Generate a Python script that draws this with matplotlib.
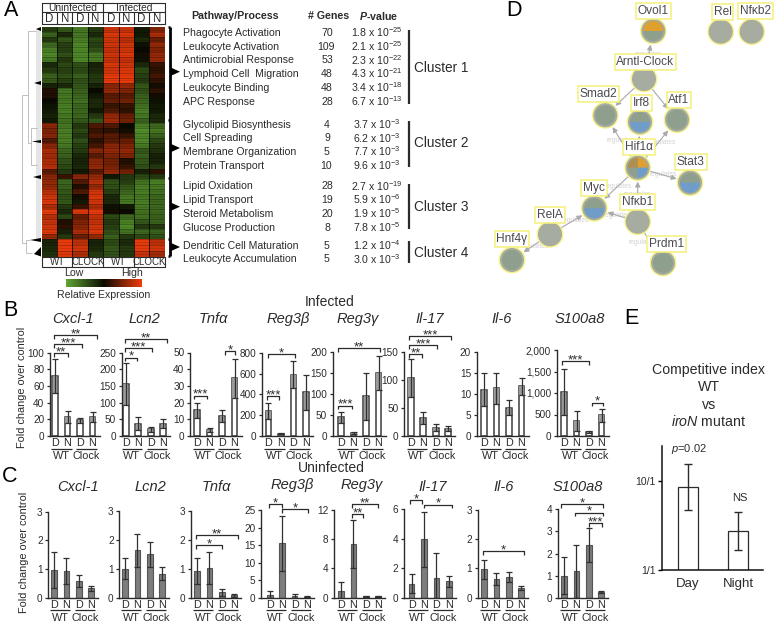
import numpy as np
import matplotlib
matplotlib.use("Agg")
import matplotlib.pyplot as plt
from matplotlib.colors import LinearSegmentedColormap
from matplotlib.patches import Circle, Wedge
from matplotlib.ticker import NullLocator

plt.rcParams['font.family'] = ['Liberation Sans', 'DejaVu Sans']
plt.rcParams['mathtext.default'] = 'regular'
plt.rcParams['mathtext.fontset'] = 'custom'
plt.rcParams['mathtext.rm'] = 'Liberation Sans'
plt.rcParams['mathtext.it'] = 'Liberation Sans:italic'
plt.rcParams['mathtext.bf'] = 'Liberation Sans:bold'
plt.rcParams['mathtext.bfit'] = 'Liberation Sans:italic:bold'

W, H = 774, 622
INK = '#2b2b2b'

# ---------------- DATA ----------------
columns = ['D', 'N', 'D', 'N', 'D', 'N', 'D', 'N']
heat_rows = [
 [-.30,-.50,-.70,-.30,.80,.80,-.10,.50],[-.55,-.20,-.70,-.20,.90,.90,-.10,.70],
 [-.30,-.50,-.75,-.40,.85,.75,-.20,.40],[-.60,-.35,-.80,-.35,.85,.85,-.05,.60],
 [-.75,-.35,-.80,-.45,.80,.85,0,.50],[-.80,-.45,-.80,-.70,.85,.90,.05,.60],
 [-.70,-.30,-.80,-.70,.80,.80,-.05,.60],[-.20,-.40,-.45,-.15,.90,.85,-.20,.20],
 [-.30,-.35,-.40,-.20,.85,.90,-.40,.15],[-.55,-.45,-.55,-.30,.95,.95,-.35,.25],
 [-.50,-.35,-.45,-.30,.95,.95,-.30,.15],[-.15,-.20,-.50,-.15,.55,.60,-.50,.05],
 [.10,-.70,-.55,0,.60,.50,-.45,.15],[.10,-.70,-.60,-.10,.35,.35,-.55,.05],
 [0,-.70,-.65,-.20,.40,.45,-.60,-.05],[-.05,-.75,-.60,-.20,.20,.20,-.65,-.10],
 [-.10,-.75,-.60,-.10,.30,.15,-.75,-.10],[-.15,-.70,-.60,-.30,.60,.40,-.70,-.20],
 [-.10,-.65,-.50,-.50,.65,.45,-.55,-.20],[.55,-.70,-.30,.30,.30,0,-.75,-.60],
 [.50,-.75,-.40,.20,.15,.05,-.85,-.70],[.55,-.75,-.30,.30,.35,.20,-.80,-.55],
 [.30,-.75,-.45,.15,.35,.40,-.80,-.40],[.55,-.70,-.35,.25,.55,.50,-.70,-.30],
 [.70,-.60,-.30,.55,.60,.60,-.50,-.25],[.65,-.55,-.20,.35,.50,.50,-.55,-.15],
 [.70,-.45,-.15,.55,.45,.10,-.50,-.15],[.75,-.40,-.20,.60,.50,.20,-.45,-.30],
 [.35,-.30,-.10,.35,.60,.45,-.15,.15],[.55,.20,.55,.60,-.10,-.30,-.40,-.30],
 [.60,-.60,.30,.75,-.45,-.35,-.65,-.75],[.60,-.55,.10,.60,-.45,-.50,-.75,-.70],
 [.75,-.50,.30,.85,-.35,-.60,-.75,-.65],[.85,-.45,.05,.90,-.20,-.70,-.70,-.60],
 [.90,-.50,-.10,.85,-.20,-.70,-.75,-.60],[.70,-.30,.20,.70,-.05,-.10,-.70,-.60],
 [.95,-.20,.90,.95,.05,0,-.65,-.60],[.75,-.40,.40,.80,-.40,-.60,-.65,-.55],
 [.80,.10,.50,.80,-.30,-.75,-.50,-.55],[.85,.15,.55,.85,-.35,-.80,-.30,-.30],
 [.90,-.15,.70,.90,-.45,-.65,-.60,-.55],[.60,-.30,.40,.60,-.55,-.30,-.40,-.45],
 [-.15,.95,.75,-.15,-.40,-.20,.95,.75],[-.20,.95,.85,-.20,-.50,-.30,.95,.85],
 [-.25,.90,.70,-.30,-.45,-.30,.80,.65]]
heat_row_units = [5.05]*42 + [5.7]*3

pathways = ['Phagocyte Activation','Leukocyte Activation','Antimicrobial Response',
            'Lymphoid Cell  Migration','Leukocyte Binding','APC Response',
            'Glycolipid Biosynthesis','Cell Spreading','Membrane Organization','Protein Transport',
            'Lipid Oxidation','Lipid Transport','Steroid Metabolism','Glucose Production',
            'Dendritic Cell Maturation','Leukocyte Accumulation']
n_genes = [70,109,53,48,48,28,4,9,5,10,28,19,20,8,5,5]
p_mant = ['1.8','2.1','2.3','4.3','3.4','6.7','3.7','6.2','7.7','9.6','2.7','5.9','1.9','7.8','1.2','3.0']
p_exp = [-25,-25,-22,-21,-18,-13,-3,-3,-3,-3,-19,-6,-5,-5,-4,-3]
clusters = ['Cluster 1','Cluster 2','Cluster 3','Cluster 4']

genes_b = ['Cxcl-1','Lcn2','Tnfα','Reg3β','Reg3γ','Il-17','Il-6','S100a8']
vals_b = [[72,23,19,23],[157,37,20,37],[15.5,3.5,12,34.5],[240,20,590,420],
          [44,7,94,150],[103,32,15,13],[11,11.3,6.7,11.8],[1030,350,90,480]]
errs_b = [[20,7,3,6],[63,20,7,13],[4.5,1.2,3.5,11.5],[75,5,130,170],
          [14,2,55,40],[34,10,6,4],[4,3.7,1.8,2],[530,240,30,150]]
ticks_b = [[0,20,40,60,80,100],[0,50,100,150,200,250],[0,10,20,30,40,50],[0,200,400,600,800],
           [0,50,100,150,200],[0,50,100,150],[0,5,10,15,20],[0,500,1000,1500,2000]]

genes_c = genes_b
vals_c = [[.97,.92,.58,.33],[1.0,1.63,1.5,.83],[.92,1.03,.18,.08],[.8,15.5,.5,.3],
          [.9,7.35,.2,.2],[.95,3.95,1.3,1.1],[.97,.63,.7,.33],[1,1.2,2.37,.27]]
errs_c = [[.63,.45,.22,.08],[.37,.57,.43,.22],[.45,.55,.12,.05],[1.0,7.8,.6,.2],
          [1.3,3.3,.1,.1],[.65,1.85,1.7,.4],[.33,.2,.18,.07],[.83,1.2,.77,.04]]
ticks_c = [[0,1,2,3],[0,1,2,3],[0,1,2,3],[0,5,10,15,20,25],
           [0,4,8,12],[0,2,4,6],[0,1,2,3],[0,1,2,3,4]]
conditions = ['D','N','D','N']
groups = ['WT','Clock']

e_labels = ['Day','Night']
e_vals = [8.5,2.73]
e_low = [4.66,1.66]
e_high = [15.2,4.43]

net_nodes = ['Ovol1','Rel','Nfκb2','Arntl-Clock','Smad2','Irf8','Atf1','Hif1α','Stat3','Myc','Nfκb1','RelA','Hnf4γ','Prdm1']
net_edges = [('Arntl-Clock','Ovol1'),('Arntl-Clock','Smad2'),('Arntl-Clock','Atf1'),('Hif1α','Smad2'),
             ('Hif1α','Irf8'),('Hif1α','Atf1'),('Hif1α','Stat3'),('Hif1α','Myc'),('Nfκb1','Hif1α'),
             ('Nfκb1','Myc'),('RelA','Myc'),('RelA','Hnf4γ'),('Nfκb1','Prdm1')]

# ---------------- LAYOUT ----------------
fig = plt.figure(figsize=(W/100, H/100), dpi=100, facecolor='white')
ov = fig.add_axes([0, 0, 1, 1], zorder=0)
ov.set_xlim(0, W); ov.set_ylim(H, 0); ov.axis('off')

def rect(l, t, r, b):
    return [l/W, 1-b/H, (r-l)/W, (b-t)/H]

def T(x, y, s, size=7.5, ha='center', va='center', **kw):
    kw.setdefault('color', INK)
    return ov.text(x, y, s, fontsize=size, ha=ha, va=va, **kw)

def L(xs, ys, lw=1.0, color=INK, **kw):
    ov.plot(xs, ys, lw=lw, color=color, solid_capstyle='butt', **kw)

for s, x, y in [('A',11,10),('B',10,310),('C',10,476),('D',514,10),('E',631,318)]:
    T(x, y, s, size=15.5, color='black')

# ---------------- panel A heatmap ----------------
cm = LinearSegmentedColormap.from_list('gbr', ['#5fa532', '#0a0a00', '#f03c0c'])
hx0, hx1, hy0, hy1 = 41.7, 164.7, 27, 256.5
axh = fig.add_axes(rect(hx0, hy0, hx1, hy1), zorder=1)
edges = np.concatenate([[0], np.cumsum(heat_row_units)])
axh.pcolormesh(np.arange(9), edges, np.array(heat_rows), cmap=cm, vmin=-1, vmax=1, shading='flat')
axh.set_ylim(edges[-1], 0); axh.set_xlim(0, 8); axh.axis('off')
axh.hlines(edges[1:-1], 0, 8, color='black', lw=.5, alpha=.35)
axh.hlines((edges[1:]+edges[:-1])/2, 0, 8, color='black', lw=.4, alpha=.18)
for k in range(1, 8):
    axh.axvline(k, color='black', lw=0.5)

cw = (hx1-hx0)/8
L([hx0,hx1,hx1,hx0,hx0],[2.7,2.7,24,24,2.7],lw=.8)
L([hx0,hx1],[12.3,12.3],lw=.8)
L([hx0+4*cw]*2,[2.7,12.3],lw=.8)
T(hx0+2*cw,7.6,'Uninfected',size=7.4); T(hx0+6*cw,7.6,'Infected',size=7.4)
for k, c in enumerate(columns):
    T(hx0+(k+.5)*cw,19,c,size=8.3)
    if k:
        L([hx0+k*cw]*2,[12.3,24],lw=.8)
L([hx0,hx1,hx1,hx0,hx0],[256.7,256.7,267.3,267.3,256.7],lw=.8)
for k in (2,4,6):
    L([hx0+k*cw]*2,[256.7,267.3],lw=.8)
for k, s in enumerate(['WT','CLOCK','WT','CLOCK']):
    T(hx0+(2*k+1)*cw,262,s,size=7)
axc = fig.add_axes(rect(66,279.3,141.3,287.5), zorder=1)
axc.imshow(np.linspace(-1,1,128)[None,:],aspect='auto',cmap=cm,vmin=-1,vmax=1)
axc.axis('off')
T(74,273.3,'Low',size=7.6); T(132.3,273.3,'High',size=7.6)
T(104,295,'Relative Expression',size=7.6)

# dendrogram
ov.fill([36,41,41,36],[29,29,240,240],color='#e4e4e4',lw=0)
for x0, y0, y1 in [(36,27,31),(34,81,85),(32,140,143),(33,175,179),(30,238,242)]:
    ov.fill([41,x0,41],[y0,(y0+y1)/2,y1],color='black',lw=0)
ov.fill([34,41,41],[254,247,256.5],color='black',lw=0)
dg = '#b5b5b5'
L([21.7,21.7],[95,243.3],lw=.6,color=dg); L([21.7,27.7],[95,95],lw=.6,color=dg)
L([27.7,27.7],[31,143],lw=.6,color=dg); L([27.7,36],[31,31],lw=.6,color=dg)
L([27.7,31],[143,143],lw=.6,color=dg); L([31,31],[128,165],lw=.6,color=dg)
L([31,37],[128,128],lw=.6,color=dg); L([31,37],[165,165],lw=.6,color=dg)
L([21.7,26],[243.3,243.3],lw=.6,color=dg); L([26,26],[240,253],lw=.6,color=dg)
L([26,32],[253,253],lw=.6,color=dg); L([26,30],[240,240],lw=.6,color=dg)

# cluster bracket
L([170,170],[27,256],lw=2,color='black')
for y in [27,120,178,239,256]:
    L([167.5,170],[y,y],lw=1.8,color='black')
for y in [71.7,148,206.7,247]:
    ov.fill([170,180,170],[y-4.5,y,y+4.5],color='black',lw=0)

# table
T(191,16,'Pathway/Process',size=7.7,ha='left',fontweight='bold')
T(307.7,16,'# Genes',size=7.7,ha='left',fontweight='bold')
T(359,16,'$\\mathbfit{P}$-value',size=7.7,ha='left',fontweight='bold')
row_y = [32.7,46.7,60.3,74,88,101.7,124.7,138.3,152,165.7,186.3,200,214,227.7,245.7,259.3]
for p, n, m, e, y in zip(pathways, n_genes, p_mant, p_exp, row_y):
    T(182.7,y,p,size=7.6,ha='left')
    T(327 if n != 109 and n != 10 else 326,y,str(n),size=7.6)
    T(376.5,y-.5,f'{m} x 10$^{{{e}}}$',size=7.6)
for s, x, y0, y1, ty in zip(clusters,[409,409,409,408.5],[30,120.7,184.3,240.7],[104,166.7,229.3,263.3],[68.3,143.3,207.3,253.3]):
    L([x,x],[y0,y1],lw=1.6)
    T(414.3,ty,s,size=9.8,ha='left')

# ---------------- panels B / C bars ----------------
def bar_panel(vals, errs, ticks, lefts, x0s, step, y0, ytops, filled):
    for v, e, tk, l, x0, yt in zip(vals, errs, ticks, lefts, x0s, ytops):
        r = x0 + 3*step + 7
        ax = fig.add_axes(rect(l, yt, r, y0), zorder=2, facecolor='none')
        ax.set_xlim((l-x0)/step, (r-x0)/step)
        ax.set_ylim(0, tk[-1])
        xs = np.arange(4)
        v = np.array(v, float); e = np.array(e, float)
        lo = np.maximum(v-e, 0)
        w = 5.6/step
        if filled:
            ax.bar(xs, v, width=w, color='#7d7d7d', edgecolor='#555555', lw=.8)
        else:
            ax.bar(xs, v, width=w, color='white', edgecolor='#3c3c3c', lw=1.1)
            ax.bar(xs, v-lo, bottom=lo, width=w*.8, color='#9a9a9a', lw=0)
        ax.errorbar(xs, v, yerr=e, fmt='none', ecolor='#303030', elinewidth=.9, capsize=2.2, capthick=.9)
        for s in ('top','right'):
            ax.spines[s].set_visible(False)
        for s in ('left','bottom'):
            ax.spines[s].set_color(INK); ax.spines[s].set_linewidth(1.0)
        ax.set_yticks(tk)
        ax.set_yticklabels([f'{t:,}' for t in tk], fontsize=7.2, color=INK)
        ax.set_xticks(xs)
        ax.set_xticklabels(conditions, fontsize=7.8, color=INK)
        ax.tick_params(axis='y', length=2.5, width=.9, color=INK, pad=1.5)
        ax.tick_params(axis='x', length=0, pad=1.5)
        for g, a in zip(groups, (0, 2)):
            xa, xb = x0+a*step, x0+(a+1)*step
            L([xa-4, xb+4],[y0+12.5]*2, lw=.9)
            T((xa+xb)/2, y0+20, g, size=7.8)

lefts_b = [50,121.7,190,261.7,332.7,404,476.7,556.7]
x0s_b = [55,125.7,197,268.3,341,410.7,484,564]
ytops_b = [352.7,352.7,352.5,352.7,351.7,351.7,351.7,350]
bar_panel(vals_b, errs_b, ticks_b, lefts_b, x0s_b, 12.5, 436, ytops_b, False)

lefts_c = [48.3,119.3,190.7,261,334,404,477.7,557.7]
x0s_c = [54,125,197,269.7,341,411.7,484,564]
ytops_c = [511.7,510.7,510.7,510,510,509,510,509.3]
bar_panel(vals_c, errs_c, ticks_c, lefts_c, x0s_c, 12.4, 597.7, ytops_c, True)

T(330,302.5,'Infected',size=10); T(331,468.5,'Uninfected',size=10)
for g, x in zip(genes_b,[73,144,213,288,358,430,502,580]):
    T(x,319,g,size=10.5,style='italic')
for g, x, y in zip(genes_c,[78,150,216,292.7,362,432.7,504,578],[487,487,487,485,485.5,487,487,487]):
    T(x,y,g,size=10.5,style='italic')
T(22,387,'Fold change over control',size=7.9,rotation=90)
T(24,552,'Fold change over control',size=7.9,rotation=90)

brackets = [
 (54.3,67.7,353.3,'**'),(54.3,81.7,344.3,'***'),(54.3,96.7,335.3,'**'),
 (125,136.7,357.7,'*'),(125,151.7,348.3,'***'),(125,166.7,339.3,'**'),
 (194,207.3,395.7,'***'),(225,235,351,'*'),
 (267.7,295.3,354.3,'*'),(266.7,279.3,396,'***'),
 (338.3,380,348.3,'**'),(338.3,351.7,405.7,'***'),
 (409.3,421.7,354,'**'),(409.3,436.7,345,'***'),(409.3,451,336,'***'),
 (561.7,589.3,361,'***'),(591.7,602.7,402.7,'*'),
 (196,222.3,545,'*'),(196,237.7,535,'**'),
 (269.3,281.7,504,'*'),(281.7,308.3,509.3,'*'),
 (351.7,363.3,514,'**'),(351.7,378.3,504.3,'**'),
 (410,421.7,500,'*'),(424.3,451.7,504.7,'*'),
 (482.7,524.3,551,'*'),
 (561,603.3,504,'*'),(575,603.3,512.7,'*'),(589.3,601.7,523,'***')]
for a, b, y, s in brackets:
    L([a,a,b,b],[y+3.5,y,y,y+3.5],lw=.9)
    T((a+b)/2,y-1,s,size=9.5)

# ---------------- panel D network ----------------
node_xy = dict(zip(net_nodes,[(653.3,31),(720.7,31.7),(751.7,31.7),(644,79),(605.3,115.3),(640,122),(677,119.7),
                              (637.7,167.7),(690,182.7),(594.3,208.3),(637.7,221.7),(550,234.3),(512,260),(663,263)]))
label_xy = dict(zip(net_nodes,[(653.5,11),(722.5,11.7),(755.5,11),(645.5,62.3),(598.3,94),(641.3,103),(679,100),
                               (639,147.3),(690.7,162.3),(593.7,188.3),(637.7,202.3),(550,214.7),(512,238.7),(666.7,244)]))
edge_label_xy = [(648,55),(620,141),(661.7,143),(663,174),(618,187),(637,194),(617,215.7),(575,221),(535,247),(642,243)]
wedges = {'Ovol1':[(180,360,'#e0a030')],'Irf8':[(0,180,'#6f9cc8')],'Stat3':[(0,180,'#6f9cc8')],
          'Myc':[(0,180,'#6f9cc8')],'Hif1α':[(270,360,'#e0a030'),(0,90,'#6f9cc8'),(180,270,'#b08d50')]}
light = {'Rel','Nfκb2','Arntl-Clock','Nfκb1','RelA'}
for a, b in net_edges:
    ov.annotate('', xy=node_xy[b], xytext=node_xy[a], zorder=2,
                arrowprops=dict(arrowstyle='-|>,head_width=.15,head_length=.3', color='#a9a9a9', lw=.8,
                                shrinkA=9, shrinkB=10))
for x, y in edge_label_xy:
    T(x,y,'regulates',size=4.8,color='#d2d2d6',zorder=1)
for n in net_nodes:
    x, y = node_xy[n]
    ov.add_patch(Circle((x,y),13.4,fc='#f7f38c',ec='none',zorder=3))
    ov.add_patch(Circle((x,y),12,fc='#a7aca0',ec='none',zorder=3))
    if n not in light:
        ov.add_patch(Circle((x,y),10,fc='#8f9f8e',ec='none',zorder=3))
    for t0, t1, c in wedges.get(n,[]):
        ov.add_patch(Wedge((x,y),10,t0,t1,fc=c,ec='none',zorder=4))
for n in net_nodes:
    x, y = label_xy[n]
    T(x,y,n,size=8.6,color='#4a4a50',zorder=6,
      bbox=dict(boxstyle='square,pad=0.16',fc='white',ec='#f4f07a',lw=1.1))

# ---------------- panel E ----------------
el, er, et, eb = 662, 763, 445.7, 570
step_e = 50.5; x0_e = 687.5
axe = fig.add_axes(rect(el,et,er,eb), zorder=2, facecolor='none')
axe.set_yscale('log'); axe.set_ylim(1, 24.66)
axe.set_xlim((el-x0_e)/step_e, (er-x0_e)/step_e)
xe = np.arange(2)
ev = np.array(e_vals)
axe.bar(xe, ev, width=20/step_e, color='white', edgecolor=INK, lw=.9)
axe.errorbar(xe, ev, yerr=[ev-np.array(e_low), np.array(e_high)-ev], fmt='none', ecolor=INK, elinewidth=1, capsize=2.6, capthick=1)
for s in ('top','right'):
    axe.spines[s].set_visible(False)
for s in ('left','bottom'):
    axe.spines[s].set_linewidth(1.1); axe.spines[s].set_color('#111111')
axe.set_yticks([1,10]); axe.set_yticklabels(['1/1','10/1'], fontsize=7.5, color=INK)
axe.yaxis.set_minor_locator(NullLocator())
axe.set_xticks(xe); axe.set_xticklabels(e_labels, fontsize=9.5, color=INK)
axe.tick_params(axis='x', length=0, pad=6)
axe.tick_params(axis='y', length=3, width=1, pad=1.5)
T(689,449,'$\\mathit{p}$=0.02',size=8)
T(740,498,'NS',size=8)
T(709,370,'Competitive index',size=10.2); T(709,387,'WT',size=10.2); T(709,405,'vs',size=10.2)
T(709,422,'$\\mathit{iroN}$ mutant',size=10.2)

fig.savefig('out.png', dpi=100)
